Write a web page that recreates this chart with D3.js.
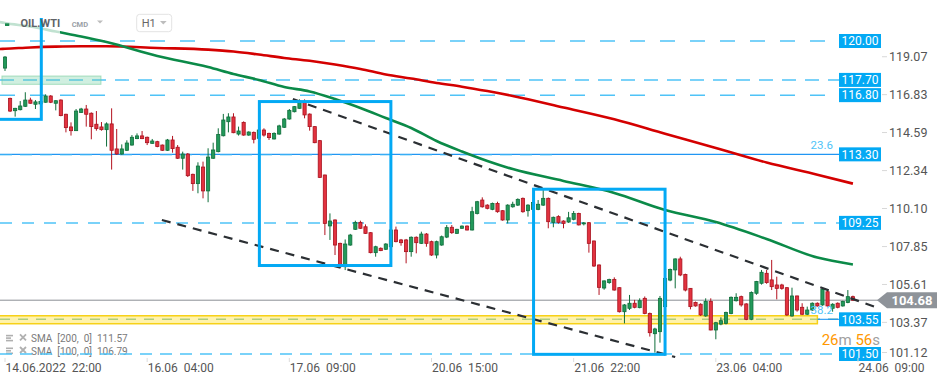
<!DOCTYPE html>
<html>
<head>
<meta charset="utf-8">
<script src="https://cdn.jsdelivr.net/npm/d3@7"></script>
<style>
html, body { margin: 0; padding: 0; background: #fff; }
svg { display: block; font-family: Roboto, "Noto Sans", sans-serif; }
</style>
</head>
<body>
<svg id="chart" width="949" height="385"></svg>
<script>
// OIL.WTI H1 candles, one per hour, index 0 = 14.06 22:00
const openV = [
	118.40,116.61,115.88,115.94,116.14,116.51,116.26,116.28,116.38,116.75,116.32,116.51,115.67,114.92,114.70,115.78,115.98,115.73,115.08,114.92,
	114.76,115.10,113.62,113.32,113.54,113.85,114.23,114.39,114.31,113.95,114.05,113.85,113.54,114.15,113.72,113.07,113.32,112.12,111.57,112.55,
	111.14,113.07,113.46,114.40,115.23,115.51,114.50,115.19,114.44,114.60,114.25,114.74,114.54,114.21,114.50,114.90,115.39,115.82,116.02,116.41,
	115.68,114.94,114.11,112.08,109.07,109.42,108.04,106.66,107.94,108.87,109.28,109.02,108.67,107.49,107.75,107.69,107.84,108.83,108.24,108.24,
	107.55,108.40,108.04,108.59,108.14,107.35,107.94,108.41,108.99,108.63,108.93,109.06,108.83,109.81,110.60,110.30,110.05,110.40,109.97,109.42,
	110.20,110.30,110.70,109.97,110.05,110.05,110.30,110.70,109.28,109.62,109.36,109.30,109.46,109.81,109.20,109.26,108.18,106.76,105.40,105.72,
	105.91,105.42,104.00,104.20,104.50,104.24,104.79,103.90,102.70,102.82,104.30,105.87,106.47,107.12,106.20,105.38,104.55,104.44,103.75,104.60,
	102.92,103.27,103.31,103.90,104.65,104.89,104.46,103.55,105.09,105.68,106.27,105.88,105.58,105.58,105.42,103.75,104.93,104.26,103.85,104.10,
	104.50,104.40,105.18,104.20,104.50,104.34,104.54,104.89
];
const highV = [
	119.11,116.65,116.05,116.45,116.97,116.65,116.51,116.48,116.85,116.80,116.50,116.55,115.70,115.19,115.98,116.05,116.22,115.78,115.86,115.21,
	115.19,116.02,114.80,113.89,114.13,114.44,114.54,114.68,114.35,114.21,114.10,113.88,114.21,114.39,113.85,113.46,113.38,112.16,112.83,112.87,
	113.66,113.99,114.84,115.69,115.73,115.73,114.94,115.25,114.66,114.65,114.80,114.84,114.58,114.60,115.05,115.45,115.98,116.15,116.55,116.55,
	115.72,114.96,114.15,112.10,109.81,109.46,108.08,108.27,108.60,109.38,109.38,109.16,108.70,107.90,107.80,108.05,108.90,109.03,108.30,108.30,
	108.45,108.45,108.73,108.65,108.20,108.20,108.50,109.12,109.12,108.90,109.10,109.10,110.20,110.55,110.76,110.35,110.45,110.50,110.00,110.35,
	110.50,110.70,110.75,110.35,110.60,110.60,111.19,110.75,109.62,109.70,109.40,109.90,109.95,109.85,109.30,109.30,108.20,106.80,105.85,105.95,
	106.03,105.45,104.45,104.99,104.70,104.79,104.90,103.95,103.05,104.93,106.00,106.55,107.15,107.25,106.25,105.40,104.60,104.50,104.79,104.79,
	103.40,103.67,104.00,104.90,105.09,104.95,104.50,105.20,105.82,106.47,106.47,107.06,106.07,105.65,105.45,105.42,104.95,104.50,104.30,104.55,
	104.55,105.40,105.25,104.50,104.55,104.65,105.28,104.95
];
const lowV = [
	118.23,115.80,115.53,115.90,116.10,116.30,115.98,116.22,116.35,116.33,115.90,115.55,114.60,114.41,114.68,115.75,114.94,114.19,114.70,114.70,
	113.76,112.40,113.28,113.28,113.50,113.82,114.20,114.20,113.85,113.93,113.72,113.50,113.50,113.40,113.03,112.40,111.96,111.14,111.00,110.70,
	110.47,113.03,113.42,114.36,114.60,114.55,114.41,114.40,114.40,113.95,114.20,114.35,114.15,114.18,114.46,114.86,115.35,115.78,116.00,115.43,
	114.70,113.96,111.90,108.53,108.24,107.35,106.60,106.46,107.90,108.83,108.90,108.60,107.45,107.25,107.58,107.65,107.80,108.10,107.90,106.86,
	107.25,107.45,108.00,107.84,107.30,107.15,107.90,108.35,108.60,108.60,108.90,108.80,108.80,109.75,110.15,110.05,110.00,109.85,109.38,109.22,
	110.15,110.25,109.85,109.62,109.90,110.00,110.25,108.93,108.99,109.20,108.93,109.25,109.40,109.10,109.10,107.49,106.65,104.99,105.30,105.65,
	105.25,103.95,103.31,104.10,104.20,104.20,103.85,102.53,101.58,102.17,104.20,105.80,105.38,106.10,105.20,104.14,104.30,103.75,103.70,102.90,
	102.37,103.20,103.25,103.85,104.60,104.30,103.50,103.50,105.00,105.60,105.65,105.28,104.73,105.30,103.75,103.70,104.00,103.80,103.80,104.05,
	104.30,104.35,104.30,104.00,104.20,104.30,104.50,104.65
];
const closeV = [
	119.05,115.86,116.02,116.16,116.51,116.32,116.40,116.42,116.75,116.38,116.47,115.59,114.88,114.70,115.86,115.98,115.67,114.94,114.82,114.76,
	115.10,113.54,113.32,113.62,113.97,114.31,114.39,114.23,113.99,114.09,113.76,113.54,114.15,113.64,113.07,113.32,112.04,111.57,112.61,111.14,
	113.14,113.56,114.48,115.33,115.51,114.58,114.68,114.44,114.62,114.19,114.74,114.44,114.29,114.54,114.98,115.39,115.90,116.12,116.41,115.63,
	114.94,113.99,111.94,109.22,109.36,107.94,106.66,108.00,108.53,109.28,108.93,108.63,107.49,107.84,107.61,108.00,108.83,108.14,108.08,107.55,
	108.40,108.08,108.59,108.04,107.35,108.14,108.43,108.97,108.67,108.87,109.06,108.83,109.91,110.50,110.20,110.11,110.40,109.91,109.42,110.30,
	110.35,110.64,109.91,110.30,110.45,110.35,110.70,109.32,109.58,109.28,109.22,109.55,109.81,109.13,109.25,108.04,106.70,105.44,105.82,105.90,
	105.28,104.00,104.40,104.50,104.26,104.65,103.90,102.76,102.98,104.79,105.97,106.50,107.12,106.17,105.28,104.30,104.34,103.81,104.60,102.92,
	103.35,103.47,103.96,104.85,104.85,104.40,103.55,105.13,105.78,106.33,105.72,105.48,105.38,105.38,103.81,104.93,104.10,103.85,104.10,104.50,
	104.34,105.32,104.34,104.44,104.26,104.60,104.89,104.68
];

// moving averages read at sample bars
const smaIdx = [-1, 0, 5, 10, 15, 20, 30, 40, 45, 50, 55, 60, 65, 70, 75, 80, 85, 90, 95, 100, 110, 120, 130, 140, 150, 160, 167];
const sma200 = [119.53,119.54,119.62,119.67,119.69,119.69,119.59,119.49,119.38,119.20,119.00,118.83,118.61,118.35,118.02,117.78,117.52,117.30,117.04,116.75,116.07,115.37,114.52,113.68,112.82,112.10,111.57];
const sma100 = [121.12,121.06,120.86,120.56,120.27,119.94,119.11,118.46,118.05,117.70,117.28,117.02,116.57,116.04,115.45,114.86,114.09,113.47,112.91,112.43,111.73,111.02,110.01,109.30,108.30,107.20,106.79];

const timeTickIdx = [0, 28, 56, 84, 112, 140, 168];
const timeLabels = ["14.06.2022  22:00", "16.06  04:00", "17.06  09:00", "20.06  15:00", "21.06  22:00", "23.06  04:00", "24.06  09:00"];
const priceTicks = [119.07, 116.83, 114.59, 112.34, 110.10, 107.85, 105.61, 103.37, 101.12];
const levels = [120.00, 117.70, 116.80, 113.30, 109.25, 103.55, 101.50];
const lastPrice = 104.68;

// drawn annotations (bar index / price)
const boxes = [
	{ i0: -12, i1: 7.15, top: 122.5, bottom: 115.37 },
	{ i0: 50.1, i1: 76.0, top: 116.42, bottom: 106.73 },
	{ i0: 104.1, i1: 130.0, top: 111.24, bottom: 101.48 }
];
const trends = [
	{ i0: 56.7, p0: 116.57, i1: 171.4, p1: 104.28 },
	{ i0: 30.9, p0: 109.42, i1: 132.0, p1: 101.32 }
];
const greenZone = { i0: -0.6, i1: 18.9, top: 117.93, bottom: 117.44 };
const yellowZone = { i0: -2, i1: 160.0, top: 103.76, bottom: 103.29 };
const fibs = [{ name: "23.6", price: 113.30 }, { name: "38.2", price: 103.55 }];

const svg = d3.select("#chart");
const x = d3.scaleLinear().domain([0, 168]).range([5, 858]);
const y = d3.scaleLinear().domain([101.5, 120]).range([354, 41]);

const labelX = 839;
const LEVEL_BLUE = "#03a9f4";
const LIGHT_BLUE = "#4fc3f7";

svg.append("defs").append("clipPath").attr("id", "plot")
	.append("rect").attr("x", 0).attr("y", 18).attr("width", 880).attr("height", 344);

// legend rows (drawn under the level lines)
const legend = svg.append("g").attr("fill", "#7a7a7a").attr("font-size", 10);
[["SMA  [200,  0]  111.57", 341.8], ["SMA  [100,  0]  106.79", 354.5]].forEach(function (row) {
	const g = legend.append("g").attr("transform", "translate(0," + row[1] + ")");
	[-7, -4.5, -2].forEach(function (dy, k) {
		g.append("rect").attr("x", 6).attr("y", dy).attr("width", k === 1 ? 5 : 7).attr("height", 1.6).attr("fill", "#b0b0b0");
	});
	g.append("path").attr("d", "M20,-7.5L26,-1.5M26,-7.5L20,-1.5").attr("stroke", "#b0b0b0").attr("stroke-width", 1.8);
	g.append("text").attr("x", 31).attr("y", 0).attr("xml:space", "preserve").text(row[0]);
});

const plot = svg.append("g").attr("clip-path", "url(#plot)");

// horizontal levels
const dashFor = { "120": "15,15", "117.7": "14,9", "116.8": "15,15", "113.3": null, "109.25": "12,10", "103.55": "10,8", "101.5": "12,8" };
levels.forEach(function (p) {
	const dash = dashFor[String(p)];
	if (p === 113.30) {
		plot.append("line").attr("x1", 0).attr("x2", labelX).attr("y1", y(p)).attr("y2", y(p))
			.attr("stroke", "#2196f3").attr("stroke-width", 1.1);
		plot.append("line").attr("x1", 0).attr("x2", 560).attr("y1", y(p) + 0.5).attr("y2", y(p) + 0.5)
			.attr("stroke", LIGHT_BLUE).attr("stroke-width", 1.4).attr("stroke-dasharray", "12,8").attr("opacity", 0.7);
		return;
	}
	plot.append("line").attr("x1", 0).attr("x2", labelX).attr("y1", y(p)).attr("y2", y(p))
		.attr("stroke", p === 103.55 ? "#5fb3a0" : LIGHT_BLUE).attr("stroke-width", 1.5)
		.attr("stroke-dasharray", dash);
});

// zones
plot.append("rect")
	.attr("x", x(yellowZone.i0)).attr("width", x(yellowZone.i1) - x(yellowZone.i0))
	.attr("y", y(yellowZone.top)).attr("height", y(yellowZone.bottom) - y(yellowZone.top))
	.attr("fill", "rgba(255,232,90,0.5)").attr("stroke", "#f7d117").attr("stroke-width", 1.5);
plot.append("line").attr("x1", x(yellowZone.i1)).attr("x2", labelX).attr("y1", y(103.55)).attr("y2", y(103.55))
	.attr("stroke", "#2196f3").attr("stroke-width", 1.1);
plot.append("rect")
	.attr("x", x(greenZone.i0)).attr("width", x(greenZone.i1) - x(greenZone.i0))
	.attr("y", y(greenZone.top)).attr("height", y(greenZone.bottom) - y(greenZone.top))
	.attr("fill", "rgba(120,210,165,0.35)").attr("stroke", "rgba(110,200,150,0.55)").attr("stroke-width", 1);

// last price line
plot.append("line").attr("x1", 0).attr("x2", 880).attr("y1", y(lastPrice)).attr("y2", y(lastPrice))
	.attr("stroke", "#8a8f94").attr("stroke-width", 1);

// moving averages
const smaLine = d3.line().x(function (d, k) { return x(smaIdx[k]); }).y(function (d) { return y(d); }).curve(d3.curveMonotoneX);
plot.append("path").datum(sma200).attr("d", smaLine).attr("fill", "none").attr("stroke", "#d40000").attr("stroke-width", 2.6);
plot.append("path").datum(sma100).attr("d", smaLine).attr("fill", "none").attr("stroke", "#0b8a48").attr("stroke-width", 2.6);

// header backdrop fades what passes under it
plot.append("rect").attr("x", 0).attr("y", 12).attr("width", 60).attr("height", 22).attr("fill", "#fff").attr("opacity", 0.75);

// candles
const bars = d3.range(openV.length);
const candle = plot.append("g").selectAll("g").data(bars).enter().append("g");
candle.append("line")
	.attr("x1", function (i) { return x(i); }).attr("x2", function (i) { return x(i); })
	.attr("y1", function (i) { return y(highV[i]); }).attr("y2", function (i) { return y(lowV[i]); })
	.attr("stroke", function (i) { return closeV[i] >= openV[i] ? "#0f6e3b" : "#b3121f"; })
	.attr("stroke-width", 1);
candle.append("rect")
	.attr("x", function (i) { return x(i) - 1.6; })
	.attr("width", 3.2)
	.attr("y", function (i) { return y(Math.max(openV[i], closeV[i])); })
	.attr("height", function (i) { return Math.max(1, Math.abs(y(openV[i]) - y(closeV[i]))); })
	.attr("fill", function (i) { return closeV[i] >= openV[i] ? "#22995a" : "#e2323f"; })
	.attr("stroke", function (i) { return closeV[i] >= openV[i] ? "#0f6e3b" : "#a8121e"; })
	.attr("stroke-width", 0.8);

// trend lines
trends.forEach(function (t) {
	plot.append("line")
		.attr("x1", x(t.i0)).attr("y1", y(t.p0)).attr("x2", x(t.i1)).attr("y2", y(t.p1))
		.attr("stroke", "#2b2f33").attr("stroke-width", 2.2).attr("stroke-dasharray", "9,7");
});

// boxes
boxes.forEach(function (b) {
	plot.append("rect")
		.attr("x", x(b.i0)).attr("width", x(b.i1) - x(b.i0))
		.attr("y", y(b.top)).attr("height", y(b.bottom) - y(b.top))
		.attr("fill", "none").attr("stroke", LEVEL_BLUE).attr("stroke-width", 3);
});

// fib names
fibs.forEach(function (f) {
	svg.append("text").attr("x", 833).attr("y", y(f.price) - 5)
		.attr("text-anchor", "end").attr("font-size", 11.5).attr("fill", LIGHT_BLUE).text(f.name);
});

// level labels
levels.forEach(function (p) {
	svg.append("rect").attr("x", labelX).attr("y", y(p) - 7).attr("width", 42).attr("height", 14).attr("fill", LEVEL_BLUE);
	svg.append("text").attr("x", labelX + 21).attr("y", y(p) + 4.3).attr("text-anchor", "middle")
		.attr("font-size", 12).attr("fill", "#fff").text(p.toFixed(2));
});

// price axis (lowest label is held above the time axis)
priceTicks.forEach(function (p) {
	const yy = Math.min(y(p), 352.5);
	svg.append("line").attr("x1", 882).attr("x2", 887).attr("y1", yy).attr("y2", yy).attr("stroke", "#d8d8d8");
	svg.append("text").attr("x", 889).attr("y", yy + 4.5).attr("font-size", 12.5).attr("fill", "#555").text(p.toFixed(2));
});

// last price tag
const ly = y(lastPrice);
svg.append("path")
	.attr("d", "M877," + ly + "L887," + (ly - 8) + "L937," + (ly - 8) + "L937," + (ly + 8) + "L887," + (ly + 8) + "Z")
	.attr("fill", "#8e9399");
svg.append("text").attr("x", 912).attr("y", ly + 4.6).attr("text-anchor", "middle")
	.attr("font-size", 13).attr("font-weight", "bold").attr("fill", "#fff").text(lastPrice.toFixed(2));

// countdown
const cd = svg.append("text").attr("x", 880).attr("y", 344.5).attr("text-anchor", "end").attr("font-size", 15);
cd.append("tspan").attr("fill", "#ff9800").text("26");
cd.append("tspan").attr("fill", "#a0a0a0").text("m ");
cd.append("tspan").attr("fill", "#ff9800").text("56");
cd.append("tspan").attr("fill", "#a0a0a0").text("s");

// time axis
timeTickIdx.forEach(function (i, k) {
	svg.append("line").attr("x1", x(i)).attr("x2", x(i)).attr("y1", 358).attr("y2", 362).attr("stroke", "#dcdcdc");
	svg.append("text").attr("x", x(i) + 0.5).attr("y", 372).attr("font-size", 12).attr("fill", "#555")
		.attr("xml:space", "preserve").text(timeLabels[k]);
});

// header
svg.append("rect").attr("x", 5).attr("y", 23.3).attr("width", 4.3).attr("height", 2.7).attr("fill", "#1b8a4f");
svg.append("text").attr("x", 20.5).attr("y", 27.3).attr("font-size", 11).attr("font-weight", "bold").attr("fill", "#5f6368").text("OIL.WTI");
svg.append("text").attr("x", 71.7).attr("y", 26.7).attr("font-size", 7.5).attr("font-weight", "bold").attr("fill", "#9aa0a6").text("CMD");
svg.append("path").attr("d", "M97,20.5L103,20.5L100,23.5Z").attr("fill", "#bdbdbd");
svg.append("rect").attr("x", 136.7).attr("y", 14.3).attr("width", 35).attr("height", 17.4).attr("rx", 3)
	.attr("fill", "#fff").attr("stroke", "#e3e3e3");
svg.append("text").attr("x", 141.7).attr("y", 27).attr("font-size", 11).attr("fill", "#666").text("H1");
svg.append("path").attr("d", "M160,21L166.7,21L163.3,24.5Z").attr("fill", "#bdbdbd");
</script>
</body>
</html>
